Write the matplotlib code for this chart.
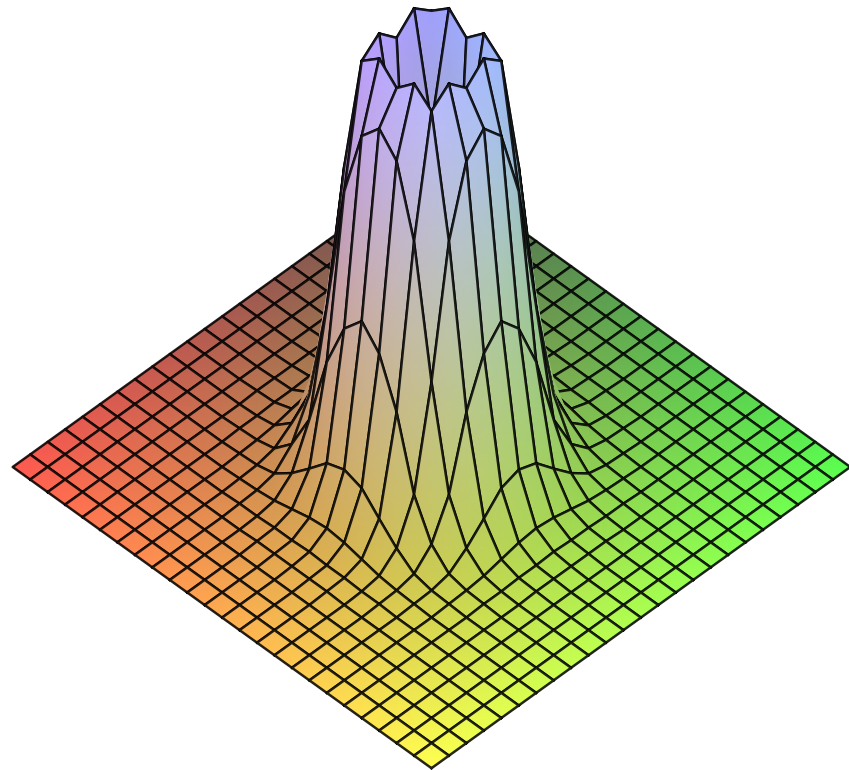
import numpy as np
import matplotlib
matplotlib.use("Agg")
import matplotlib.pyplot as plt

# grid steps from the centre of the surface
x_vals = np.arange(-12, 13)
y_vals = np.arange(-12, 13)

# surface heights (rows follow y_vals, columns x_vals)
heights = np.array([
    [0] * 25,
    [0] * 25,
    [0] * 25,
    [0] * 25,
    [0, 0, 0, 0, 0, 0, 0, 0, 0, 0, 1, 1, 1, 1, 1, 0, 0, 0, 0, 0, 0, 0, 0, 0, 0],
    [0, 0, 0, 0, 0, 0, 0, 0, 1, 1, 2, 2, 3, 2, 2, 1, 1, 0, 0, 0, 0, 0, 0, 0, 0],
    [0, 0, 0, 0, 0, 0, 0, 1, 2, 4, 8, 12, 14, 12, 8, 4, 2, 1, 0, 0, 0, 0, 0, 0, 0],
    [0, 0, 0, 0, 0, 0, 1, 2, 6, 19, 36, 54, 60, 54, 36, 19, 6, 2, 1, 0, 0, 0, 0, 0, 0],
    [0, 0, 0, 0, 0, 1, 2, 6, 23, 60, 130, 176, 196, 176, 130, 60, 23, 6, 2, 1, 0, 0, 0, 0, 0],
    [0, 0, 0, 0, 0, 1, 4, 19, 60, 160, 288, 356, 376, 356, 288, 160, 60, 19, 4, 1, 0, 0, 0, 0, 0],
    [0, 0, 0, 0, 1, 2, 8, 36, 130, 288, 406, 421, 404, 421, 406, 288, 130, 36, 8, 2, 1, 0, 0, 0, 0],
    [0, 0, 0, 0, 1, 2, 12, 54, 176, 356, 421, 317, 60, 317, 421, 356, 176, 54, 12, 2, 1, 0, 0, 0, 0],
    [0, 0, 0, 0, 1, 3, 14, 60, 196, 376, 404, 60, 20, 60, 404, 376, 196, 60, 14, 3, 1, 0, 0, 0, 0],
    [0, 0, 0, 0, 1, 2, 12, 54, 176, 356, 421, 317, 60, 317, 421, 356, 176, 54, 12, 2, 1, 0, 0, 0, 0],
    [0, 0, 0, 0, 1, 2, 8, 36, 130, 288, 406, 421, 404, 421, 406, 288, 130, 36, 8, 2, 1, 0, 0, 0, 0],
    [0, 0, 0, 0, 0, 1, 4, 19, 60, 160, 288, 356, 376, 356, 288, 160, 60, 19, 4, 1, 0, 0, 0, 0, 0],
    [0, 0, 0, 0, 0, 1, 2, 6, 23, 60, 130, 176, 196, 176, 130, 60, 23, 6, 2, 1, 0, 0, 0, 0, 0],
    [0, 0, 0, 0, 0, 0, 1, 2, 6, 19, 36, 54, 60, 54, 36, 19, 6, 2, 1, 0, 0, 0, 0, 0, 0],
    [0, 0, 0, 0, 0, 0, 0, 1, 2, 4, 8, 12, 14, 12, 8, 4, 2, 1, 0, 0, 0, 0, 0, 0, 0],
    [0, 0, 0, 0, 0, 0, 0, 0, 1, 1, 2, 2, 3, 2, 2, 1, 1, 0, 0, 0, 0, 0, 0, 0, 0],
    [0, 0, 0, 0, 0, 0, 0, 0, 0, 0, 1, 1, 1, 1, 1, 0, 0, 0, 0, 0, 0, 0, 0, 0, 0],
    [0] * 25,
    [0] * 25,
    [0] * 25,
    [0] * 25,
], dtype=float)

X, Y = np.meshgrid(x_vals, y_vals)

# flat oblique view, matched to the corners of the base
sx = 431.5 + 17.45 * (X - Y)
sy = 467 - 12.55 * (X + Y) - heights

# red falls off along x, green along y, blue comes with the height
u = (X - x_vals[0]) / 24
v = (Y - y_vals[0]) / 24
colors = np.dstack([
    (255 - 165 * u) / 255,
    (255 - 165 * v) / 255,
    np.clip((80 + 0.42 * heights) / 255, 0, 1),
])

fig = plt.figure(figsize=(8.49, 7.7), dpi=100)
ax = fig.add_axes([0, 0, 1, 1])

# painter's order: far corner first, each cell then its outline
z = 1
for j in range(23, -1, -1):
    for i in range(23, -1, -1):
        ax.pcolormesh(sx[j:j + 2, i:i + 2], sy[j:j + 2, i:i + 2], colors[j:j + 2, i:i + 2],
                      shading='gouraud', zorder=z, antialiased=True)
        ox = [sx[j, i], sx[j, i + 1], sx[j + 1, i + 1], sx[j + 1, i], sx[j, i]]
        oy = [sy[j, i], sy[j, i + 1], sy[j + 1, i + 1], sy[j + 1, i], sy[j, i]]
        ax.plot(ox, oy, color='black', lw=1.8, alpha=0.85, solid_joinstyle='round', zorder=z + 0.5)
        z += 1

ax.set_xlim(0, 849)
ax.set_ylim(770, 0)
ax.axis('off')

fig.savefig('out.png', dpi=100)
